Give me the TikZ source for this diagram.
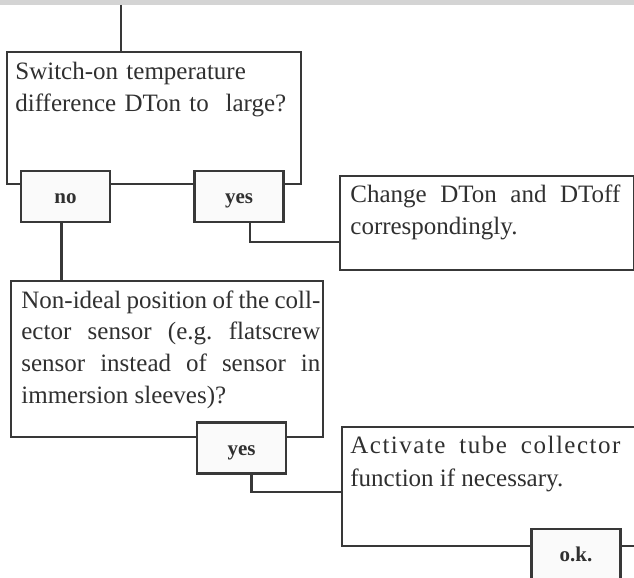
\documentclass[tikz,border=0pt]{standalone}
\usepackage{fontspec}
\setmainfont{Liberation Serif}
\usetikzlibrary{calc,positioning}
\definecolor{linegray}{HTML}{383838}
\definecolor{textgray}{HTML}{303030}
\definecolor{bandgray}{HTML}{D4D4D4}
\definecolor{tagfill}{HTML}{FAFAFA}
\hyphenpenalty=10000
\exhyphenpenalty=10000
\frenchspacing

\begin{document}
\begin{tikzpicture}[
  x=0.5pt, y=-0.5pt,
  frame/.style={draw=linegray, line width=1.25pt, fill=white, inner sep=0pt, anchor=north west},
  txt/.style={anchor=base west, inner sep=0pt, text=textgray, font=\fontsize{12.5}{16}\selectfont},
  tag/.style={draw=linegray, line width=1.25pt, fill=tagfill, inner sep=0pt,
    minimum width=44.5pt, minimum height=25.5pt, text height=7.5pt, text depth=0pt,
    text=textgray, font=\fontsize{10.5}{12}\selectfont\bfseries},
  wire/.style={draw=linegray, line width=1.25pt}
]
\path[use as bounding box] (0,0) rectangle (634,578);

\fill[bandgray] (0,0) rectangle (634,5);
\coordinate (entry) at (121,5);

% question and action boxes
\node[frame, minimum width=147pt, minimum height=66pt] (q1) at (6,51) {};
\node[frame, minimum width=147pt, minimum height=47pt] (a1) at (339,175) {};
\node[frame, minimum width=156pt, minimum height=78pt] (q2) at (10,280) {};
\node[frame, minimum width=146.5pt, minimum height=59.5pt] (a2) at (341,426) {};

\node[txt, align=left, text width=145pt] (q1t) at ([shift={(4.5pt,-14.5pt)}]q1.north west)
  {Switch-on temperature\\difference DTon to\ \ large?};
\node[txt, align=justify, text width=135pt] (a1t) at ([shift={(5.5pt,-14pt)}]a1.north west)
  {Change DTon and DToff\linebreak correspondingly.};
\node[txt, align=justify, text width=149.5pt] (q2t) at ([shift={(5.5pt,-14pt)}]q2.north west)
  {Non-ideal position of the coll-\linebreak ector sensor (e.g. flatscrew\linebreak
   sensor instead of sensor in\linebreak immersion sleeves)?};
\node[txt, align=justify, text width=135pt, font=\fontsize{12.5}{16.5}\selectfont] (a2t)
  at ([shift={(4.5pt,-14pt)}]a2.north west)
  {{\addfontfeature{LetterSpace=6}Activate tube collector}\linebreak function if necessary.};

% answer tags
\node[tag] (no1) at (65.5,196.5) {no};
\node[tag] (yes1) at (239,196.5) {yes};
\node[tag] (yes2) at (241.5,448) {yes};
\node[tag] (ok) at (576,554.5) {o.k.};

\draw[wire] (entry) -- (entry |- q1.north);
\draw[wire] ([xshift=-2pt]no1.south) -- ([xshift=-2pt]no1.south |- q2.north);
\draw[wire] ([xshift=5.5pt]yes1.south) |- ([yshift=-9.5pt]a1.west);
\draw[wire] ([xshift=5pt]yes2.south) |- ([yshift=-2.75pt]a2.west);
\end{tikzpicture}
\end{document}
